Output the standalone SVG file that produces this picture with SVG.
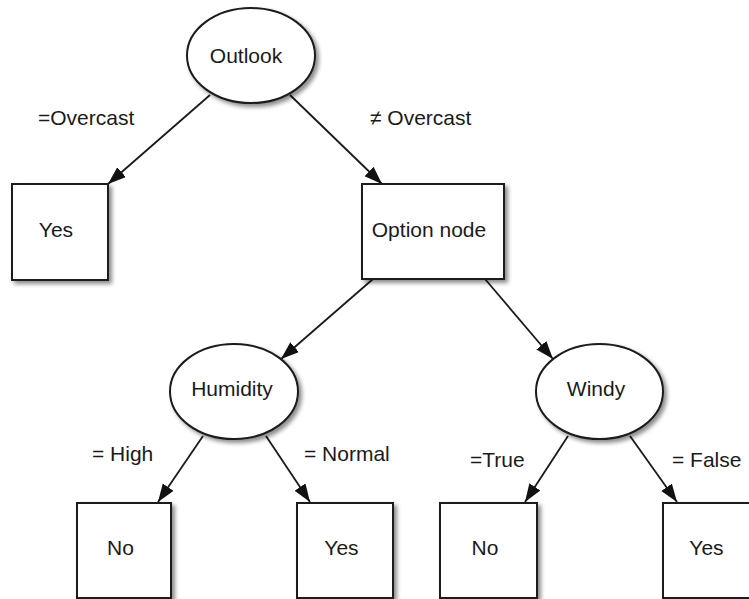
<svg xmlns="http://www.w3.org/2000/svg" width="749" height="599" viewBox="0 0 749 599">
<style>
.shape{fill:#fff;stroke:#1a1a1a;stroke-width:2;filter:url(#sh)}
.t{font-family:"Liberation Sans",Arial,Helvetica,sans-serif;font-size:21px;fill:#1a1a1a}
.c{text-anchor:middle}
.edge{stroke:#1a1a1a;stroke-width:1.8;fill:none;marker-end:url(#ah)}
</style>
<defs>
<filter id="sh" x="-20%" y="-20%" width="140%" height="140%">
<feDropShadow dx="3" dy="3" stdDeviation="2" flood-color="#000" flood-opacity="0.45"/>
</filter>
<marker id="ah" markerUnits="userSpaceOnUse" markerWidth="20" markerHeight="14" refX="18" refY="6.5" orient="auto">
<path d="M0,0 L18,6.5 L0,13 z" fill="#111"/>
</marker>
</defs>
<rect width="749" height="599" fill="#fff"/>
<g id="connectors">
<line class="edge" x1="210" y1="95" x2="108" y2="184"/>
<line class="edge" x1="290" y1="95" x2="382" y2="184"/>
<line class="edge" x1="373" y1="279" x2="281" y2="359"/>
<line class="edge" x1="485" y1="279" x2="553" y2="359"/>
<line class="edge" x1="203" y1="436" x2="158" y2="502"/>
<line class="edge" x1="266" y1="436" x2="310" y2="502"/>
<line class="edge" x1="568" y1="436" x2="525" y2="502"/>
<line class="edge" x1="630" y1="436" x2="677" y2="502"/>
<text class="t" x="38" y="125">=Overcast</text>
<text class="t" x="370" y="125">≠ Overcast</text>
<text class="t" x="92" y="461">= High</text>
<text class="t" x="304" y="461">= Normal</text>
<text class="t" x="470" y="467">=True</text>
<text class="t" x="672" y="467">= False</text>
</g>
<g id="outlook">
<ellipse class="shape" cx="251" cy="55.5" rx="64" ry="47.5"/>
<text class="t c" x="246" y="63">Outlook</text>
</g>
<g id="yes1">
<rect class="shape" x="12" y="184" width="96" height="96"/>
<text class="t c" x="56" y="237">Yes</text>
</g>
<g id="option">
<rect class="shape" x="362" y="184" width="142" height="95"/>
<text class="t c" x="429" y="237">Option node</text>
</g>
<g id="humidity">
<ellipse class="shape" cx="234" cy="391.5" rx="64" ry="47.5"/>
<text class="t c" x="232" y="396">Humidity</text>
</g>
<g id="windy">
<ellipse class="shape" cx="599.5" cy="391.5" rx="63.5" ry="47.5"/>
<text class="t c" x="596" y="396">Windy</text>
</g>
<g id="no1">
<rect class="shape" x="77" y="503" width="94" height="95"/>
<text class="t c" x="120.5" y="555">No</text>
</g>
<g id="yes2">
<rect class="shape" x="297" y="503" width="96" height="95"/>
<text class="t c" x="341.5" y="555">Yes</text>
</g>
<g id="no2">
<rect class="shape" x="440" y="503" width="97" height="95"/>
<text class="t c" x="485" y="555">No</text>
</g>
<g id="yes3">
<rect class="shape" x="663" y="503" width="96" height="95"/>
<text class="t c" x="706.5" y="555">Yes</text>
</g>
</svg>
